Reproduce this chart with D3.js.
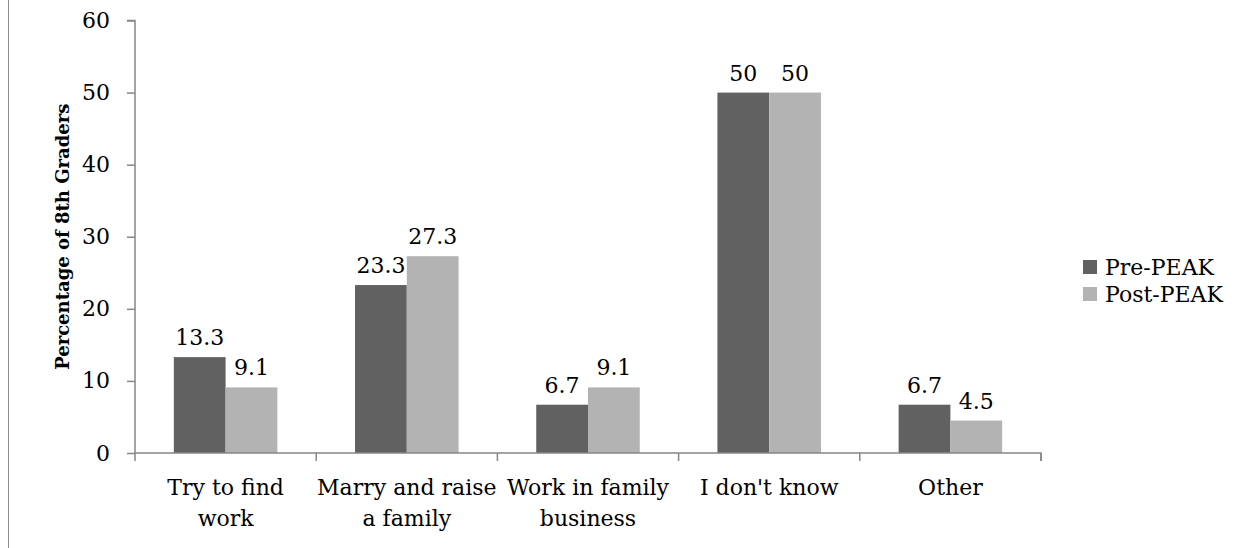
<!DOCTYPE html>
<html>
<head>
<meta charset="utf-8">
<script src="https://cdn.jsdelivr.net/npm/d3@7"></script>
<style>
  html, body { margin: 0; padding: 0; background: #ffffff; }
  svg { display: block; }
  svg text { font-family: "DejaVu Serif", serif !important; fill: #000; }
</style>
</head>
<body>
<svg id="chart" width="1252" height="548"></svg>
<script>
// ---- data ----
const categories = ["Try to find\nwork", "Marry and raise\na family", "Work in family\nbusiness", "I don't know", "Other"];
const seriesNames = ["Pre-PEAK", "Post-PEAK"];
const prePeak = [13.3, 23.3, 6.7, 50, 6.7];
const postPeak = [9.1, 27.3, 9.1, 50, 4.5];
const yTicks = [0, 10, 20, 30, 40, 50, 60];
const yTitle = "Percentage of 8th Graders";

// ---- layout ----
const W = 1252, H = 548;
const plot = { left: 135, right: 1041, top: 20.5, bottom: 453 };
const colors = { "Pre-PEAK": "#616161", "Post-PEAK": "#b3b3b3" };
const axisColor = "#878787";
const fontSize = 22;

const svg = d3.select("#chart");

// outer border (left edge visible)
svg.append("line")
  .attr("x1", 8.5).attr("x2", 8.5).attr("y1", 0).attr("y2", H)
  .attr("stroke", "#8c8c8c").attr("stroke-width", 1);

const x0 = d3.scaleBand().domain(categories).range([plot.left, plot.right]).padding(0);
const x1 = d3.scaleBand().domain(seriesNames).range([0, x0.bandwidth()]).paddingInner(0).paddingOuter(0.75);
const y = d3.scaleLinear().domain([0, 60]).range([plot.bottom, plot.top]);

const rows = categories.map((c, i) => ({ cat: c, values: [
  { s: "Pre-PEAK", v: prePeak[i] },
  { s: "Post-PEAK", v: postPeak[i] }
]}));

// bars
const g = svg.append("g");
const groups = g.selectAll("g.cat").data(rows).join("g")
  .attr("class", "cat")
  .attr("transform", d => `translate(${x0(d.cat)},0)`);

groups.selectAll("rect").data(d => d.values).join("rect")
  .attr("x", d => x1(d.s))
  .attr("width", x1.bandwidth())
  .attr("y", d => y(d.v))
  .attr("height", d => y(0) - y(d.v))
  .attr("fill", d => colors[d.s]);

groups.selectAll("text.lbl").data(d => d.values).join("text")
  .attr("class", "lbl")
  .attr("x", d => x1(d.s) + x1.bandwidth() / 2)
  .attr("y", d => y(d.v) - 12)
  .attr("text-anchor", "middle")
  .attr("font-size", fontSize)
  .text(d => d.v);

// y axis
const yAxis = svg.append("g")
  .attr("transform", `translate(${plot.left},0)`)
  .call(d3.axisLeft(y).tickValues(yTicks).tickSize(8).tickPadding(17).tickFormat(d3.format("d")));
yAxis.attr("font-family", null).attr("font-size", null);
yAxis.selectAll("path, line").attr("stroke", axisColor).attr("stroke-width", 1.5);
yAxis.selectAll("text").attr("font-size", fontSize).attr("fill", "#000");
yAxis.select("path").attr("d", `M-8,${y(60)}H0V${y(0)}`);

// x axis
const xAxis = svg.append("g")
  .attr("transform", `translate(0,${plot.bottom})`)
  .call(d3.axisBottom(x0).tickSize(0).tickFormat(""));
xAxis.select("path").attr("stroke", axisColor).attr("stroke-width", 1.5)
  .attr("d", `M${plot.left},0H${plot.right}V8`);
const bounds = categories.map(c => x0(c)).concat([x0.range()[1]]);
xAxis.selectAll("line.bound").data(bounds).join("line")
  .attr("class", "bound")
  .attr("x1", d => d).attr("x2", d => d).attr("y1", 0).attr("y2", 8)
  .attr("stroke", axisColor).attr("stroke-width", 1.5);

// category labels
const catLabels = svg.append("g").selectAll("text").data(categories).join("text")
  .attr("x", d => x0(d) + x0.bandwidth() / 2)
  .attr("y", 495)
  .attr("text-anchor", "middle")
  .attr("font-size", fontSize);
catLabels.each(function(d) {
  const t = d3.select(this);
  d.split("\n").forEach((line, i) => {
    t.append("tspan").attr("x", x0(d) + x0.bandwidth() / 2).attr("dy", i === 0 ? 0 : 31).text(line);
  });
});

// y title
svg.append("text")
  .attr("transform", `translate(69,${(plot.top + plot.bottom) / 2}) rotate(-90)`)
  .attr("text-anchor", "middle")
  .attr("font-size", 18)
  .attr("font-weight", "bold")
  .text(yTitle);

// legend
const legend = svg.append("g").selectAll("g").data(seriesNames).join("g")
  .attr("transform", (d, i) => `translate(1083,${267 + i * 27})`);
legend.append("rect").attr("x", 0).attr("y", -7).attr("width", 14).attr("height", 14)
  .attr("fill", d => colors[d]);
legend.append("text").attr("x", 22).attr("y", 8).attr("font-size", fontSize).text(d => d);
</script>
</body>
</html>
